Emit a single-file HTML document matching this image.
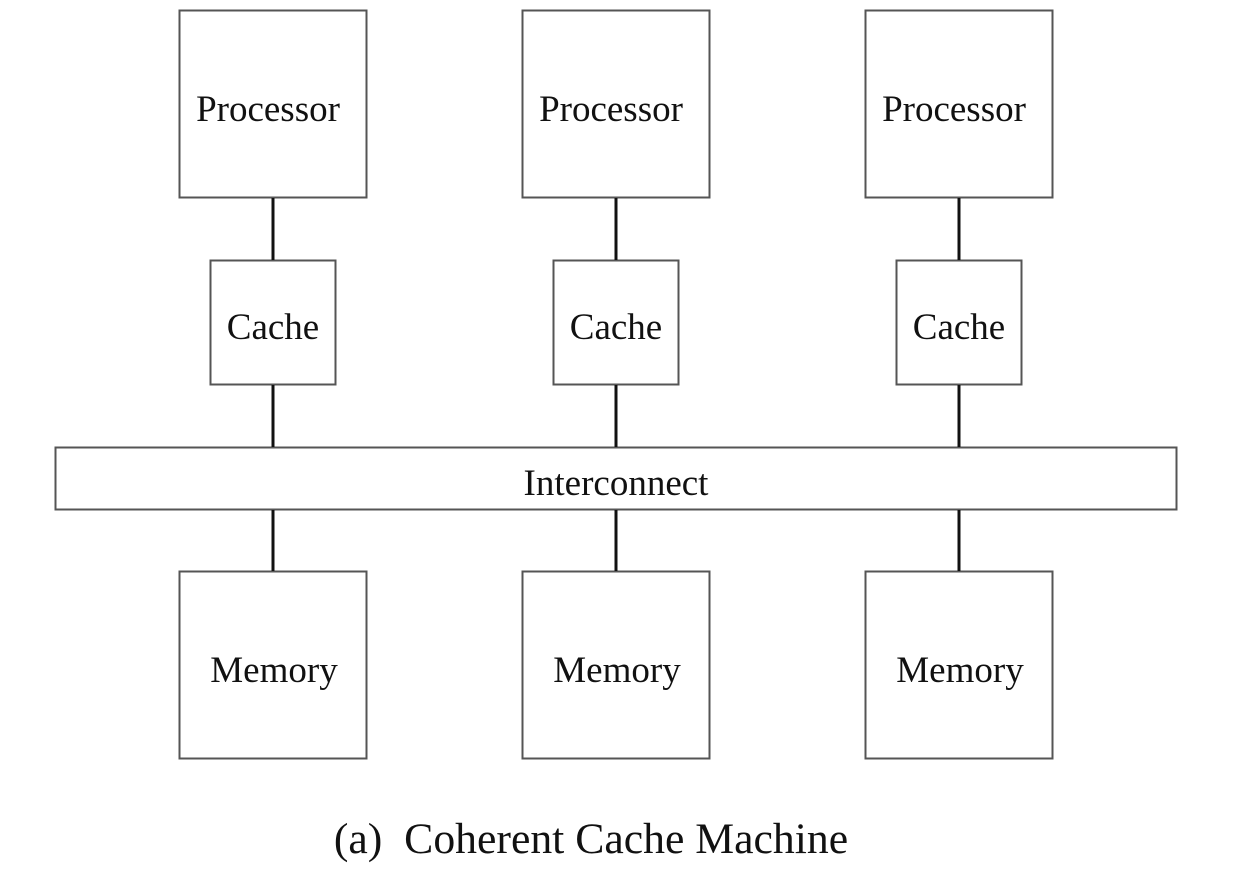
<!DOCTYPE html>
<html><head><meta charset="utf-8"><style>
html,body{margin:0;padding:0;background:#fff;}
svg{display:block;}
text{font-family:"Liberation Serif",serif;fill:#111;}
</style></head><body>
<svg width="1240" height="886" viewBox="0 0 1240 886" xmlns="http://www.w3.org/2000/svg">
<g fill="none" stroke="#555" stroke-width="2">
<rect x="179.5" y="10.5" width="187" height="187"/>
<rect x="522.5" y="10.5" width="187" height="187"/>
<rect x="865.5" y="10.5" width="187" height="187"/>
<rect x="210.5" y="260.5" width="125" height="124"/>
<rect x="553.5" y="260.5" width="125" height="124"/>
<rect x="896.5" y="260.5" width="125" height="124"/>
<rect x="55.5" y="447.5" width="1121" height="62"/>
<rect x="179.5" y="571.5" width="187" height="187"/>
<rect x="522.5" y="571.5" width="187" height="187"/>
<rect x="865.5" y="571.5" width="187" height="187"/>
</g>
<g stroke="#111" stroke-width="3">
<line x1="273" y1="198" x2="273" y2="260"/><line x1="616" y1="198" x2="616" y2="260"/><line x1="959" y1="198" x2="959" y2="260"/>
<line x1="273" y1="385" x2="273" y2="447"/><line x1="616" y1="385" x2="616" y2="447"/><line x1="959" y1="385" x2="959" y2="447"/>
<line x1="273" y1="510" x2="273" y2="571"/><line x1="616" y1="510" x2="616" y2="571"/><line x1="959" y1="510" x2="959" y2="571"/>
</g>
<g font-size="37" text-anchor="middle">
<text x="268" y="121">Processor</text><text x="611" y="121">Processor</text><text x="954" y="121">Processor</text>
<text x="273" y="339">Cache</text><text x="616" y="339">Cache</text><text x="959" y="339">Cache</text>
<text x="616" y="495">Interconnect</text>
<text x="274" y="682">Memory</text><text x="617" y="682">Memory</text><text x="960" y="682">Memory</text>
</g>
<text x="591" y="853" font-size="43.7" text-anchor="middle" xml:space="preserve">(a)  Coherent Cache Machine</text>
</svg>
</body></html>
